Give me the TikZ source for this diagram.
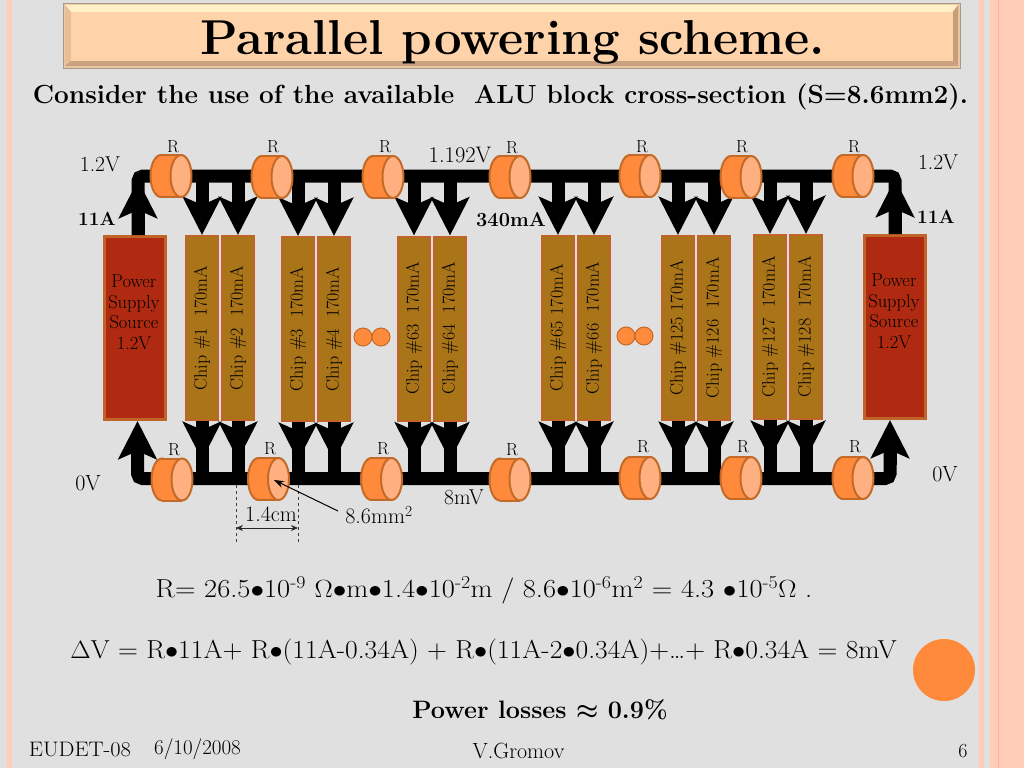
\documentclass[tikz,border=0pt]{standalone}
\usepackage{bm}
\usetikzlibrary{arrows.meta}
\definecolor{slidebg}{HTML}{E0E0E0}
\definecolor{stripe}{HTML}{FFCDB8}
\definecolor{stripedark}{HTML}{FFB596}
\definecolor{rbody}{HTML}{FF8A3C}
\definecolor{rend}{HTML}{FFB080}
\definecolor{rline}{HTML}{C46A28}
\definecolor{chipfill}{HTML}{AA7419}
\definecolor{psufill}{HTML}{B02A12}
\definecolor{boxline}{HTML}{C0642A}
\definecolor{titlefill}{HTML}{FFD3A9}
\definecolor{titleline}{HTML}{A89888}
\definecolor{titlerim}{HTML}{EBC9A8}
\newcommand{\wider}[2]{\scalebox{#1}[1]{#2}}
\tikzset{
  txt/.style={inner sep=0pt,font=\fontsize{#1}{#1}\selectfont},
  btxt/.style={inner sep=0pt,font=\fontsize{#1}{#1}\selectfont\bfseries},
  chip/.style={draw=boxline,fill=chipfill,line width=2pt,inner sep=0pt,
    minimum width=32pt,minimum height=184pt,font=\fontsize{18}{18}\selectfont},
  psu/.style={draw=boxline,fill=psufill,line width=3pt,inner sep=0pt,
    minimum width=61pt,minimum height=183pt},
  psutext/.style={inner sep=0pt,align=center,font=\fontsize{18.5}{20.5}\selectfont},
  resistor/.pic={
    \draw[draw=rline,fill=rbody,line width=2pt] (-10,0) ellipse (10.5 and 21);
    \fill[rbody] (-10,-21) rectangle (10,21);
    \draw[rline,line width=2pt] (-10,-21) -- (10,-21) (-10,21) -- (10,21);
    \draw[draw=rline,fill=rend,line width=2pt] (10,0) ellipse (10.5 and 21);
  },
  dotnode/.style={circle,draw=rline,fill=rbody,line width=1pt,inner sep=0pt,minimum size=18pt},
  rail/.style={line width=13pt,rounded corners=5pt},
  stub/.style={line width=13pt},
  feed/.style={line width=13pt,-{Stealth[length=38pt,width=38pt,inset=8pt]}},
}
\begin{document}
\begin{tikzpicture}[x=1pt,y=-1pt]
  \useasboundingbox (0,0) rectangle (1024,768);
  \fill[slidebg] (0,0) rectangle (1024,768);
  \fill[stripe] (7,0) rectangle (12,768);
  \fill[stripe] (979,0) rectangle (984,768);
  \fill[stripe] (990,0) rectangle (1024,768);
  \draw[stripedark,line width=1pt] (998,0) -- (998,768);
  % title bar
  \draw[fill=titlerim,draw=titleline] (63,3) rectangle (960,68);
  \fill[color={rgb,255:red,255;green,240;blue,200}] (65,5) -- (958,5) -- (952,12) -- (71,12) -- cycle;
  \fill[color={rgb,255:red,232;green,190;blue,148}] (65,5) -- (71,12) -- (71,61) -- (65,66) -- cycle;
  \fill[color={rgb,255:red,200;green,158;blue,120}] (958,5) -- (953,12) -- (953,61) -- (958,66) -- cycle;
  \fill[color={rgb,255:red,201;green,162;blue,128}] (65,66) -- (958,66) -- (953,61) -- (71,61) -- cycle;
  \fill[titlefill] (71,12) rectangle (953,61);
  \node[btxt=49] (title) at (512.5,42) {Parallel powering scheme.};
  \node[btxt=26.2] (subtitle) at (500.5,96.5) {Consider the use of the available\ \ ALU block cross-section (S=8.6mm2).};

  \node[psu] (psuL) at (135,328) {};
  \node[psu] (psuR) at (895,327) {};
  \node[psutext] (psuLtext) at (134,312.5) {Power\\Supply\\Source\\1.2V};
  \node[psutext] (psuRtext) at (894,311.5) {Power\\Supply\\Source\\1.2V};

  \foreach \n/\x/\y/\lab in {1/202/328/{Chip \#1~~170mA},2/238/328/{Chip \#2~~170mA},
      3/298/329/{Chip \#3~~170mA},4/334/329/{Chip \#4~~170mA},
      63/414/328.5/{Chip \#63~~170mA},64/450/328.5/{Chip \#64~~170mA},
      65/558/328/{Chip \#65 170mA},66/594/328/{Chip \#66~~170mA},
      125/678/328/{Chip \#125 170mA},126/714/328/{Chip \#126~~170mA},
      127/770/327/{Chip \#127~~170mA},128/806/327/{Chip \#128~~170mA}}
    \node[chip] (chip\n) at (\x,\y) {\rotatebox{90}{\lab}};

  \coordinate (busTL) at (138,176);
  \coordinate (busTR) at (895,176);
  \coordinate (busBL) at (137.5,478.5);
  \coordinate (busBR) at (890,478.5);

  % rails
  \draw[rail] (busTL |- psuL.north) -- (busTL) -- (busTR) -- (busTR |- psuR.north);
  \draw[rail] (137.5,445) -- (busBL) -- (busBR) -- (890,445);
  \draw[feed] (busTL |- psuL.north) -- ++(0,-55);
  \draw[feed] (busTR |- psuR.north) -- ++(0,-55);
  \draw[feed] (137.5,465) -- (busBL |- psuL.south);
  \draw[feed] (890,465) -- (busBR |- psuR.south);

  \foreach \n in {1,2,3,4,63,64,65,66,125,126,127,128} {
    \draw[feed] (chip\n.north |- busTL) -- (chip\n.north);
    \draw[stub] (chip\n.south) -- (chip\n.south |- busBL);
    \draw[feed] (chip\n.south) -- ++(0,39);
  }

  % resistors
  \foreach \n/\x/\y in {1/171/176,2/272/177,3/383/177,4/510/177,5/640/176,6/741/177,7/853/176}
    \pic (rt\n) at (\x,\y) {resistor};
  \foreach \n/\x/\y in {1/172/479.5,2/268.5/479,3/381.5/479,4/510/479.5,5/640/478,6/741/478,7/853/478}
    \pic (rb\n) at (\x,\y) {resistor};

  \foreach \n/\x/\y in {1/363/337,2/381/337,3/626/336,4/644/336}
    \node[dotnode] (dot\n) at (\x,\y) {};

  \foreach \n/\lx/\ly in {1/173/147,2/273/147,3/385/147,4/512/148,5/642/147,6/742/147,7/854/147,
      8/174/450,9/270/449,10/383/449,11/512/450,12/643/447,13/743/447,14/855/447}
    \node[txt=17.5] (rlab\n) at (\lx,\ly) {R};

  \node[txt=21.5] (vTL) at (100,164) {1.2V};
  \node[txt=22.5] (vTM) at (460,155) {1.192V};
  \node[txt=21.5] (vTR) at (938,162) {1.2V};
  \node[btxt=19] (iL) at (97,219) {11A};
  \node[btxt=20] (iM) at (511,220) {340mA};
  \node[btxt=19] (iR) at (936,217) {11A};
  \node[txt=22] (vBL) at (88,483) {0V};
  \node[txt=22] (vBR) at (945,474) {0V};
  \node[txt=21.5] (vBM) at (464,497) {8mV};
  \node[txt=22] (len) at (271,514) {1.4cm};
  \node[txt=22] (area) at (379,515) {8.6mm\textsuperscript{2}};

  % dimension
  \coordinate (dimL) at (236,485);
  \coordinate (dimR) at (298,485);
  \coordinate (areaTip) at (274,480);
  \coordinate (areaTail) at (338,511);
  \draw[dashed,black!75,line width=.8pt] (dimL) -- ++(0,59);
  \draw[dashed,black!75,line width=.8pt] (dimR) -- ++(0,59);
  \draw[{Stealth[length=7pt,width=6pt]}-{Stealth[length=7pt,width=6pt]},line width=.8pt,black!85] (dimL |- 0,528) -- (dimR |- 0,528);
  \draw[-{Stealth[length=10pt,width=7pt]},line width=1pt] (areaTail) -- (areaTip);

  % formulas
  \node[txt=26] (eqR) at (484,590.5) {\wider{1.095}{R= 26.5$\bullet$10\textsuperscript{-9} $\Omega\bullet$m$\bullet$1.4$\bullet$10\textsuperscript{-2}m / 8.6$\bullet$10\textsuperscript{-6}m\textsuperscript{2} = 4.3 $\bullet$10\textsuperscript{-5}$\Omega$ .}};
  \node[txt=26] (eqV) at (483.5,652) {\wider{1.06}{$\Delta$V = R$\bullet$11A+ R$\bullet$(11A-0.34A) + R$\bullet$(11A-2$\bullet$0.34A)+\dots+ R$\bullet$0.34A = 8mV}};
  \node[btxt=25.2] (loss) at (540,710) {Power losses $\bm{\approx}$ 0.9\%};
  \node[circle,fill=rbody,inner sep=0pt,minimum size=62pt] (blob) at (944,670) {};

  \node[txt=21] (foot1) at (80,749) {\wider{1.07}{EUDET-08}};
  \node[txt=21] (foot2) at (197.5,749) {6/10/2008};
  \node[txt=22] (foot3) at (518.5,751) {V.Gromov};
  \node[txt=20] (foot4) at (963,751) {6};
\end{tikzpicture}
\end{document}
